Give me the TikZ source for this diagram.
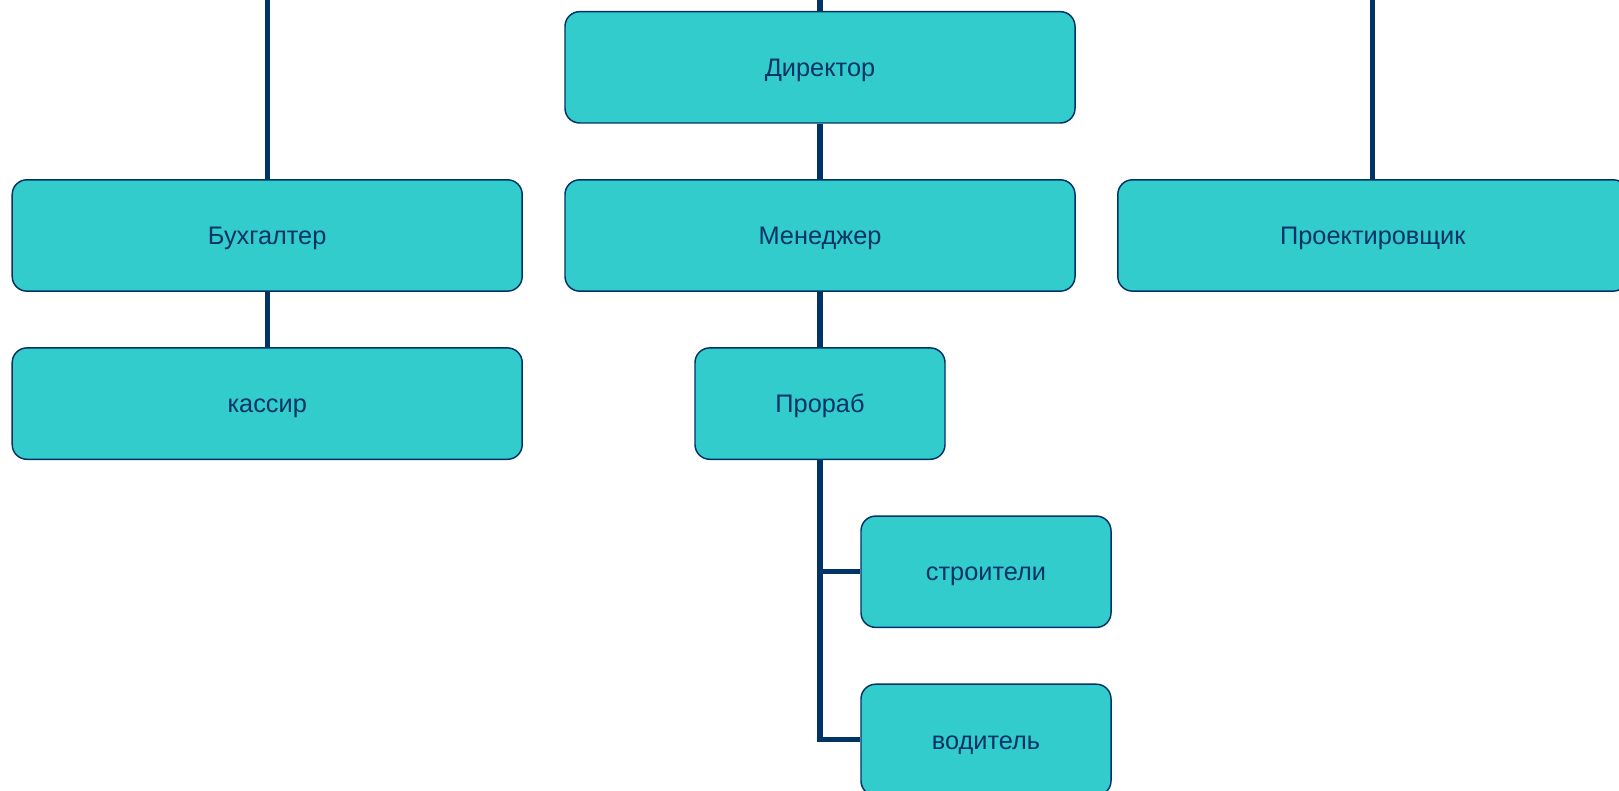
\documentclass[tikz,border=0pt]{standalone}
\usepackage{fontspec}
\setmainfont{Liberation Sans}
\usepackage{xcolor}
\usepackage{tikz}
\usetikzlibrary{positioning}
\definecolor{boxfill}{HTML}{33CCCC}
\definecolor{navy}{HTML}{003366}

\begin{document}
\begin{tikzpicture}[
    font=\fontsize{19}{22}\selectfont,
    text=navy,
    node distance=41.5pt and 31pt,
    bigbox/.style={draw=navy, line width=1.1pt, fill=boxfill, rounded corners=11pt, align=center, minimum width=382.5pt, minimum height=83.5pt, inner sep=0pt, text height=13.7pt, text depth=0pt},
    smallbox/.style={bigbox, minimum width=187.5pt},
    link/.style={draw=navy, line width=3.8pt}
]
\useasboundingbox (0,0) rectangle (1214.25pt,-593.25pt);
\coordinate (top) at (0,0);

% Top level
\node[bigbox] (director) at (615pt,-50.5pt) {Директор};
\node[bigbox, below=of director] (manager) {Менеджер};
\node[bigbox, left=of manager] (accountant) {Бухгалтер};
\node[bigbox, right=of manager] (designer) {Проектировщик};

% Lower levels
\node[bigbox, below=of accountant] (cashier) {кассир};
\node[smallbox, below=of manager] (foreman) {Прораб};
\node[smallbox, below=of foreman, xshift=124.5pt] (builders) {строители};
\node[smallbox, below=of builders] (driver) {водитель};

\draw[link] (director.north) -- (director.north |- top);
\draw[link] (accountant.north) -- (accountant.north |- top);
\draw[link] (designer.north) -- (designer.north |- top);
\draw[link] (director) -- (manager);
\draw[link] (accountant) -- (cashier);
\draw[link] (manager) -- (foreman);
\draw[link] (foreman.south) |- (builders.west);
\draw[link] (foreman.south) |- (driver.west);

\end{tikzpicture}
\end{document}
